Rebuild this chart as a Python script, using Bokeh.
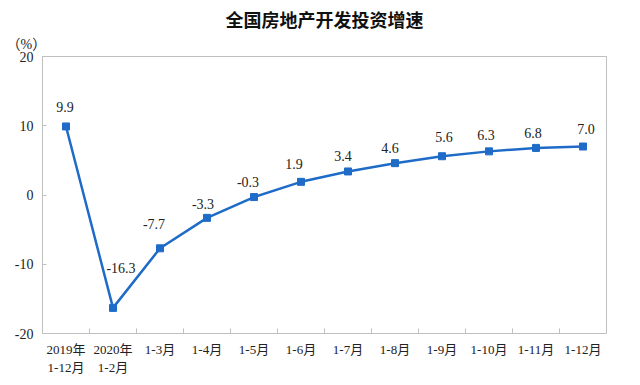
from bokeh.plotting import figure
from bokeh.models import Range1d, FixedTicker, LinearAxis, LabelSet, ColumnDataSource, Title
from bokeh.core.properties import value
from bokeh.embed import file_html
from bokeh.resources import INLINE

# ---- data ----
categories = ["2019年\n1-12月", "2020年\n1-2月", "1-3月", "1-4月", "1-5月", "1-6月",
              "1-7月", "1-8月", "1-9月", "1-10月", "1-11月", "1-12月"]
values = [9.9, -16.3, -7.7, -3.3, -0.3, 1.9, 3.4, 4.6, 5.6, 6.3, 6.8, 7.0]
y_ticks = [-20, -10, 0, 10, 20]
title_text = "全国房地产开发投资增速"
unit_text = "（%）"

# ---- label styling offsets (screen px) ----
label_dx = [-1, 8, -6, -4, -6, -7, -5, -5, 2, -3, -3, 3]
label_dy = [19, 40, 24, 14, 15, 18, 15, 15, 19, 16, 15, 18]

n = len(categories)
centers = [i + 0.5 for i in range(n)]
bounds = [i for i in range(1, n)]

BLUE = "#1F6BC8"
GRAY = "#BFBFBF"
TXT = "#222222"
SERIF = "'Liberation Serif', 'Noto Sans CJK SC', serif"

p = figure(width=624, height=380, x_range=Range1d(0, n), y_range=Range1d(-20, 20),
           output_backend="svg", toolbar_location=None,
           x_axis_type=None, y_axis_type=None,
           min_border_left=42, min_border_right=18, min_border_top=56, min_border_bottom=47)
p.outline_line_color = GRAY
p.outline_line_width = 1
p.background_fill_color = "white"
p.border_fill_color = "white"

xaxis = LinearAxis(ticker=FixedTicker(ticks=centers, minor_ticks=bounds),
                   major_label_overrides={c: lab for c, lab in zip(centers, categories)})
xaxis.axis_line_color = GRAY
xaxis.major_tick_in = 0
xaxis.major_tick_out = 0
xaxis.minor_tick_in = 5
xaxis.minor_tick_out = 0
xaxis.minor_tick_line_color = GRAY
xaxis.major_label_text_font = SERIF
xaxis.major_label_text_font_size = "13px"
xaxis.major_label_text_color = TXT
xaxis.major_label_standoff = 8
p.add_layout(xaxis, "below")

yaxis = LinearAxis(ticker=FixedTicker(ticks=y_ticks, minor_ticks=[]),
                   major_label_overrides={t: str(t) for t in y_ticks})
yaxis.axis_line_color = GRAY
yaxis.major_tick_in = 4
yaxis.major_tick_out = 0
yaxis.major_tick_line_color = GRAY
yaxis.minor_tick_line_color = None
yaxis.major_label_text_font = SERIF
yaxis.major_label_text_font_size = "14px"
yaxis.major_label_text_color = TXT
yaxis.major_label_standoff = 9
p.add_layout(yaxis, "left")

src = ColumnDataSource(dict(x=centers, y=values, lab=[f"{v:.1f}" for v in values],
                            dx=label_dx, dy=label_dy))
p.line("x", "y", source=src, line_width=2.5, line_color=BLUE)
p.scatter("x", "y", source=src, marker="square", size=7, fill_color=BLUE, line_color=BLUE)

labels = LabelSet(x="x", y="y", text="lab", source=src, x_offset="dx", y_offset="dy",
                  text_align="center", text_baseline="middle",
                  text_font=value(SERIF), text_font_size="14px", text_color=TXT)
p.add_layout(labels)

# unit label (closest to the frame), then the main title above it
p.add_layout(Title(text=unit_text, align="left", offset=-36, standoff=10,
                   text_font=SERIF, text_font_size="14px", text_font_style="normal",
                   text_color=TXT), "above")
p.add_layout(Title(text=title_text, align="center", offset=3, standoff=-4,
                   text_font="Noto Sans CJK SC", text_font_size="18px",
                   text_font_style="bold", text_color="#111111"), "above")

open("out.html", "w").write(file_html(p, INLINE))
